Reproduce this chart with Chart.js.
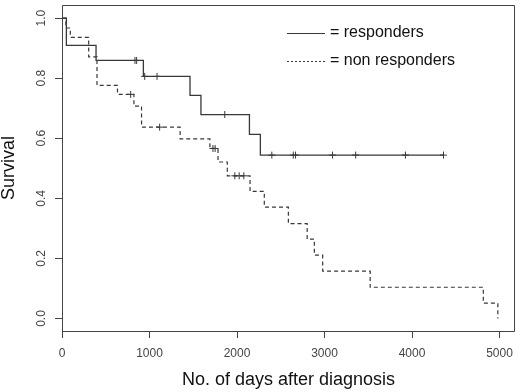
<!DOCTYPE html>
<html lang="en">
<head>
    <meta charset="UTF-8">
    <title>Survival by response</title>
    <script src="https://cdn.jsdelivr.net/npm/chart.js"></script>
    <style>
        body {
            margin: 0;
            background: #ffffff;
        }
        #wrap {
            width: 520px;
            height: 392px;
        }
    </style>
</head>
<body>
    <div id="wrap">
        <canvas id="survChart" width="520" height="392"></canvas>
    </div>

    <script>
        // axis ticks
        const xTicks = [0, 1000, 2000, 3000, 4000, 5000];
        const yTicks = [0, 0.2, 0.4, 0.6, 0.8, 1.0];

        const seriesLabels = ["responders", "non responders"];

        // responders: step times (days) and survival after each step
        const respDays = [0, 50, 389, 930, 1463, 1588, 2142, 2267, 4360];
        const respSurv = [1.0, 0.909, 0.859, 0.806, 0.743, 0.679, 0.613, 0.544, 0.544];
        const respCensored = [834, 853, 945, 1086, 1860, 2398, 2643, 2669, 3092, 3356, 3925, 4360];

        // non responders
        const nonDays = [0, 45, 95, 305, 400, 634, 822, 909, 1350, 1690, 1783, 1889, 2149, 2312, 2587, 2802, 2884, 2979, 3522, 4815, 4981];
        const nonSurv = [1.0, 0.967, 0.936, 0.871, 0.776, 0.746, 0.707, 0.637, 0.598, 0.566, 0.521, 0.475, 0.423, 0.371, 0.316, 0.264, 0.211, 0.158, 0.104, 0.051, 0.0];
        const nonCensored = [785, 1116, 1725, 1750, 1975, 2025, 2078];

        const lineColor = "#383838";
        const fontFamily = "'Liberation Sans', Arial, sans-serif";

        // survival value of a step curve at time t (for placing censor marks)
        function survAt(days, surv, t) {
            let s = surv[0];
            for (let i = 0; i < days.length; i++) {
                if (days[i] <= t) s = surv[i];
            }
            return s;
        }

        function toPoints(days, surv) {
            return days.map((d, i) => ({ x: d, y: surv[i] }));
        }

        function censorPoints(days, surv, cens) {
            return cens.map(t => ({ x: t, y: survAt(days, surv, t) }));
        }

        // frame around the plot region, like base R graphics
        const boxPlugin = {
            id: "plotBox",
            afterDraw(chart) {
                const { ctx, chartArea: a } = chart;
                ctx.save();
                ctx.strokeStyle = "#444";
                ctx.lineWidth = 1;
                ctx.beginPath();
                ctx.moveTo(a.left + 0.5, a.top + 0.5);
                ctx.lineTo(a.right - 0.5, a.top + 0.5);
                ctx.lineTo(a.right - 0.5, a.bottom + 0.5);
                ctx.lineTo(a.left + 0.5, a.bottom + 0.5);
                ctx.closePath();
                ctx.stroke();
                ctx.restore();
            }
        };

        // y tick labels written sideways (R las=0 style)
        const yLabelPlugin = {
            id: "yLabels",
            afterDraw(chart) {
                const { ctx, scales, chartArea } = chart;
                const y = scales.y;
                ctx.save();
                ctx.font = "12px " + fontFamily;
                ctx.fillStyle = "#444";
                ctx.textAlign = "center";
                ctx.textBaseline = "middle";
                yTicks.forEach(v => {
                    const py = y.getPixelForValue(v);
                    ctx.save();
                    ctx.translate(chartArea.left - 20, py);
                    ctx.rotate(-Math.PI / 2);
                    ctx.fillText(v.toFixed(1), 0, 0);
                    ctx.restore();
                });
                ctx.restore();
            }
        };

        // "——— = responders" style legend in the top right corner
        const legendPlugin = {
            id: "kmLegend",
            afterDraw(chart) {
                const ctx = chart.ctx;
                const rows = [
                    { y: 33, dash: [], label: seriesLabels[0] },
                    { y: 61, dash: [2, 2], label: seriesLabels[1] }
                ];
                ctx.save();
                ctx.font = "16px " + fontFamily;
                ctx.textBaseline = "middle";
                ctx.fillStyle = "#111";
                rows.forEach(r => {
                    ctx.strokeStyle = lineColor;
                    ctx.lineWidth = 1;
                    ctx.setLineDash(r.dash);
                    ctx.beginPath();
                    ctx.moveTo(287, r.y + 0.5);
                    ctx.lineTo(325, r.y + 0.5);
                    ctx.stroke();
                    ctx.fillText("= " + r.label, 330, r.y);
                });
                ctx.restore();
            }
        };

        Chart.defaults.font.family = fontFamily;

        const ctx = document.getElementById("survChart").getContext("2d");
        const survChart = new Chart(ctx, {
            type: "scatter",
            data: {
                datasets: [
                    {
                        label: seriesLabels[1],
                        data: toPoints(nonDays, nonSurv),
                        showLine: true,
                        stepped: "before",
                        borderColor: lineColor,
                        borderWidth: 1.2,
                        borderDash: [4, 3],
                        pointRadius: 0
                    },
                    {
                        label: seriesLabels[0],
                        data: toPoints(respDays, respSurv),
                        showLine: true,
                        stepped: "before",
                        borderColor: lineColor,
                        borderWidth: 1.3,
                        pointRadius: 0
                    },
                    {
                        label: "censored (non responders)",
                        data: censorPoints(nonDays, nonSurv, nonCensored),
                        showLine: false,
                        pointStyle: "cross",
                        pointRadius: 3.5,
                        borderColor: lineColor,
                        pointBorderWidth: 1
                    },
                    {
                        label: "censored (responders)",
                        data: censorPoints(respDays, respSurv, respCensored),
                        showLine: false,
                        pointStyle: "cross",
                        pointRadius: 3.5,
                        borderColor: lineColor,
                        pointBorderWidth: 1
                    }
                ]
            },
            options: {
                responsive: false,
                animation: false,
                layout: { padding: { left: 0, right: 0, top: 0, bottom: 0 } },
                plugins: {
                    legend: { display: false },
                    tooltip: { enabled: false }
                },
                scales: {
                    x: {
                        type: "linear",
                        min: 0,
                        max: 5177,
                        afterBuildTicks: s => { s.ticks = xTicks.map(v => ({ value: v })); },
                        afterFit: s => {
                            s.height = 61;
                            s.paddingLeft = 0; s.paddingRight = 0;
                        },
                        border: { display: false },
                        grid: {
                            display: true,
                            drawOnChartArea: false,
                            drawTicks: true,
                            tickLength: 7,
                            tickColor: "#444"
                        },
                        ticks: {
                            padding: 8,
                            color: "#444",
                            font: { size: 12 },
                            maxRotation: 0,
                            autoSkip: false,
                            callback: v => String(v)
                        },
                        title: {
                            display: true,
                            text: "No. of days after diagnosis",
                            color: "#111",
                            font: { size: 18, lineHeight: 1.2 },
                            padding: { top: 0, bottom: 1 }
                        }
                    },
                    y: {
                        type: "linear",
                        min: -0.0416,
                        max: 1.0436,
                        afterBuildTicks: s => { s.ticks = yTicks.map(v => ({ value: v })); },
                        afterFit: s => {
                            s.width = 62;
                            s.paddingTop = 0; s.paddingBottom = 0;
                        },
                        border: { display: false },
                        grid: {
                            display: true,
                            drawOnChartArea: false,
                            drawTicks: true,
                            tickLength: 7,
                            tickColor: "#444"
                        },
                        ticks: {
                            display: false
                        },
                        title: {
                            display: true,
                            text: "Survival",
                            color: "#111",
                            font: { size: 18, lineHeight: 1.0 },
                            padding: { top: 0, bottom: 0 }
                        }
                    }
                }
            },
            plugins: [boxPlugin, yLabelPlugin, legendPlugin]
        });
    </script>
</body>
</html>
